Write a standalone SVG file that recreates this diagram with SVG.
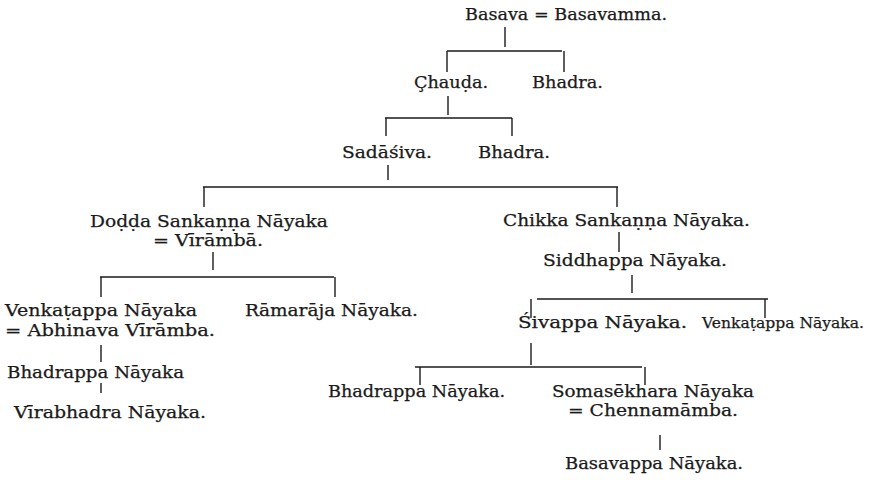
<svg xmlns="http://www.w3.org/2000/svg" width="869" height="480" viewBox="0 0 869 480">
<style>
text{font-family:"DejaVu Serif","Liberation Serif",serif;font-size:16px;fill:#1a1a1a;stroke:#1a1a1a;stroke-width:0.25}
.c line{stroke:#1a1a1a;stroke-width:1.4}
</style>
<rect width="869" height="480" fill="#fff"/>
<g class="c" id="connectors">
<line x1="505" y1="27" x2="505" y2="47"/>
<line x1="447" y1="51" x2="562" y2="51"/>
<line x1="447" y1="51" x2="447" y2="72"/>
<line x1="564" y1="51" x2="564" y2="72"/>
<line x1="448" y1="96" x2="448" y2="115"/>
<line x1="385" y1="118" x2="512" y2="118"/>
<line x1="386" y1="118" x2="386" y2="136"/>
<line x1="512" y1="118" x2="512" y2="136"/>
<line x1="388" y1="165" x2="388" y2="180"/>
<line x1="203" y1="187" x2="618" y2="187"/>
<line x1="204" y1="187" x2="204" y2="207"/>
<line x1="617" y1="187" x2="617" y2="207"/>
<line x1="213" y1="252" x2="213" y2="270"/>
<line x1="100" y1="277" x2="334" y2="277"/>
<line x1="101" y1="277" x2="101" y2="297"/>
<line x1="335" y1="277" x2="335" y2="297"/>
<line x1="101" y1="345" x2="101" y2="362"/>
<line x1="101" y1="383" x2="101" y2="393"/>
<line x1="619" y1="232" x2="619" y2="252"/>
<line x1="632" y1="275" x2="632" y2="293"/>
<line x1="537" y1="299" x2="768" y2="299"/>
<line x1="531" y1="299" x2="531" y2="318"/>
<line x1="765" y1="299" x2="765" y2="318"/>
<line x1="531" y1="343" x2="531" y2="365"/>
<line x1="415" y1="367" x2="642" y2="367"/>
<line x1="420" y1="367" x2="420" y2="385"/>
<line x1="645" y1="367" x2="645" y2="385"/>
<line x1="660" y1="435" x2="660" y2="450"/>
</g>
<g id="basava"><text x="465" y="20" textLength="202" lengthAdjust="spacingAndGlyphs">Basava = Basavamma.</text></g>
<g id="chauda"><text x="414" y="88" textLength="74" lengthAdjust="spacingAndGlyphs">Çhauḍa.</text></g>
<g id="bhadra1"><text x="532" y="88" textLength="71" lengthAdjust="spacingAndGlyphs">Bhadra.</text></g>
<g id="sadasiva"><text x="342" y="158" textLength="90" lengthAdjust="spacingAndGlyphs">Sadāśiva.</text></g>
<g id="bhadra2"><text x="478" y="158" textLength="72" lengthAdjust="spacingAndGlyphs">Bhadra.</text></g>
<g id="dodda">
<text x="90" y="227" textLength="238" lengthAdjust="spacingAndGlyphs">Doḍḍa Sankaṇṇa Nāyaka</text>
<text x="153" y="246" textLength="110" lengthAdjust="spacingAndGlyphs">= Vīrāmbā.</text>
</g>
<g id="chikka"><text x="503" y="226" textLength="247" lengthAdjust="spacingAndGlyphs">Chikka Sankaṇṇa Nāyaka.</text></g>
<g id="siddhappa"><text x="543" y="266" textLength="184" lengthAdjust="spacingAndGlyphs">Siddhappa Nāyaka.</text></g>
<g id="venkatappa1">
<text x="5" y="316" textLength="192" lengthAdjust="spacingAndGlyphs">Venkaṭappa Nāyaka</text>
<text x="5" y="336" textLength="210" lengthAdjust="spacingAndGlyphs">= Abhinava Vīrāmba.</text>
</g>
<g id="ramaraja"><text x="245" y="316" textLength="173" lengthAdjust="spacingAndGlyphs">Rāmarāja Nāyaka.</text></g>
<g id="bhadrappa1"><text x="7" y="378" textLength="177" lengthAdjust="spacingAndGlyphs">Bhadrappa Nāyaka</text></g>
<g id="virabhadra"><text x="14" y="418" textLength="192" lengthAdjust="spacingAndGlyphs">Vīrabhadra Nāyaka.</text></g>
<g id="sivappa"><text x="518" y="328" textLength="169" lengthAdjust="spacingAndGlyphs">Śivappa Nāyaka.</text></g>
<g id="venkatappa2"><text x="702" y="328" style="font-size:15.5px" textLength="162" lengthAdjust="spacingAndGlyphs">Venkaṭappa Nāyaka.</text></g>
<g id="bhadrappa2"><text x="328" y="397" textLength="177" lengthAdjust="spacingAndGlyphs">Bhadrappa Nāyaka.</text></g>
<g id="somasekhara">
<text x="552" y="397" textLength="202" lengthAdjust="spacingAndGlyphs">Somasēkhara Nāyaka</text>
<text x="568" y="416" textLength="170" lengthAdjust="spacingAndGlyphs">= Chennamāmba.</text>
</g>
<g id="basavappa"><text x="565" y="469" textLength="178" lengthAdjust="spacingAndGlyphs">Basavappa Nāyaka.</text></g>
</svg>
